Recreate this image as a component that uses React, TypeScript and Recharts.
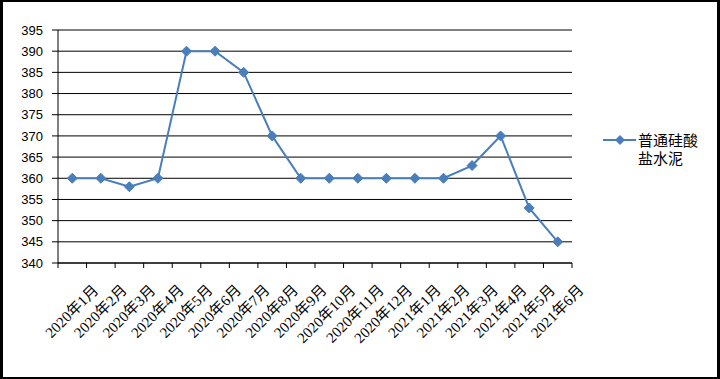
import React from "react";
import { LineChart, Line, XAxis, YAxis, CartesianGrid } from "recharts";

const months = [
  "2020年1月", "2020年2月", "2020年3月", "2020年4月", "2020年5月", "2020年6月",
  "2020年7月", "2020年8月", "2020年9月", "2020年10月", "2020年11月", "2020年12月",
  "2021年1月", "2021年2月", "2021年3月", "2021年4月", "2021年5月", "2021年6月",
];
const cementPrice = [360, 360, 358, 360, 390, 390, 385, 370, 360, 360, 360, 360, 360, 360, 363, 370, 353, 345];
const yTicks = [340, 345, 350, 355, 360, 365, 370, 375, 380, 385, 390, 395];
const seriesName = "普通硅酸盐水泥";

const data = months.map((m, i) => ({ month: m, price: cementPrice[i] }));

const W = 720;
const H = 379;
const PLOT_LEFT = 58;
const PLOT_RIGHT = 572;
const PLOT_TOP = 30;
const PLOT_BOTTOM = 263;
const BAND = (PLOT_RIGHT - PLOT_LEFT) / months.length;
const BLUE = "#4a7ebb";

function Diamond(props: any) {
  const { cx, cy } = props;
  if (cx == null || cy == null) return null;
  const r = 5;
  return (
    <polygon
      points={`${cx},${cy - r} ${cx + r},${cy} ${cx},${cy + r} ${cx - r},${cy}`}
      fill={BLUE}
      stroke={BLUE}
    />
  );
}

function MonthTick(props: any) {
  const { x, payload, index } = props;
  const half = BAND / 2;
  const y = PLOT_BOTTOM;
  const ax = x + 27;
  const ay = y + 28;
  return (
    <g>
      <line x1={x - half} y1={y} x2={x - half} y2={y + 5} stroke="#000" />
      {index === months.length - 1 && (
        <line x1={x + half} y1={y} x2={x + half} y2={y + 5} stroke="#000" />
      )}
      <text
        x={ax}
        y={ay}
        textAnchor="end"
        transform={`rotate(-45, ${ax}, ${ay})`}
        fontSize={15}
        fontFamily="'Liberation Serif', 'Noto Sans CJK SC', serif"
        fill="#000"
      >
        {payload.value}
      </text>
    </g>
  );
}

function LegendBox() {
  return (
    <div style={{ position: "absolute", left: 603, top: 131, display: "flex", alignItems: "flex-start" }}>
      <svg width={34} height={14} style={{ marginTop: 2 }}>
        <line x1={0} y1={7} x2={33} y2={7} stroke={BLUE} strokeWidth={2} />
        <polygon points="17,2 22,7 17,12 12,7" fill={BLUE} />
      </svg>
      <div
        style={{
          width: "4em",
          fontSize: 15,
          lineHeight: "18px",
          fontFamily: "'Noto Sans CJK SC', sans-serif",
          color: "#000",
          marginLeft: 1,
        }}
      >
        {seriesName}
      </div>
    </div>
  );
}

export default function App() {
  return (
    <div style={{ position: "absolute", left: 0, top: 0, width: W, height: H, background: "#fff" }}>
      <LineChart
        width={W}
        height={H}
        data={data}
        margin={{ top: PLOT_TOP, right: W - PLOT_RIGHT, bottom: 0, left: 0 }}
      >
        <CartesianGrid vertical={false} stroke="#000" strokeWidth={1} />
        <XAxis
          dataKey="month"
          scale="band"
          interval={0}
          height={H - PLOT_BOTTOM}
          axisLine={{ stroke: "#000" }}
          tickLine={false}
          tick={<MonthTick />}
        />
        <YAxis
          width={PLOT_LEFT}
          domain={[340, 395]}
          ticks={yTicks}
          interval={0}
          axisLine={{ stroke: "#000" }}
          tickLine={{ stroke: "#000" }}
          tickSize={6}
          tickMargin={9}
          tick={{ fill: "#000", fontSize: 13, fontFamily: "'Liberation Sans', Arial, sans-serif" }}
        />
        <Line
          type="linear"
          dataKey="price"
          name={seriesName}
          stroke={BLUE}
          strokeWidth={2}
          dot={<Diamond />}
          activeDot={false}
          isAnimationActive={false}
        />
      </LineChart>
      <LegendBox />
      <div
        style={{
          position: "absolute",
          left: 0,
          top: 0,
          width: W,
          height: H,
          boxSizing: "border-box",
          borderStyle: "solid",
          borderColor: "#000",
          borderWidth: "2px 3px 2px 3px",
          pointerEvents: "none",
        }}
      />
    </div>
  );
}
